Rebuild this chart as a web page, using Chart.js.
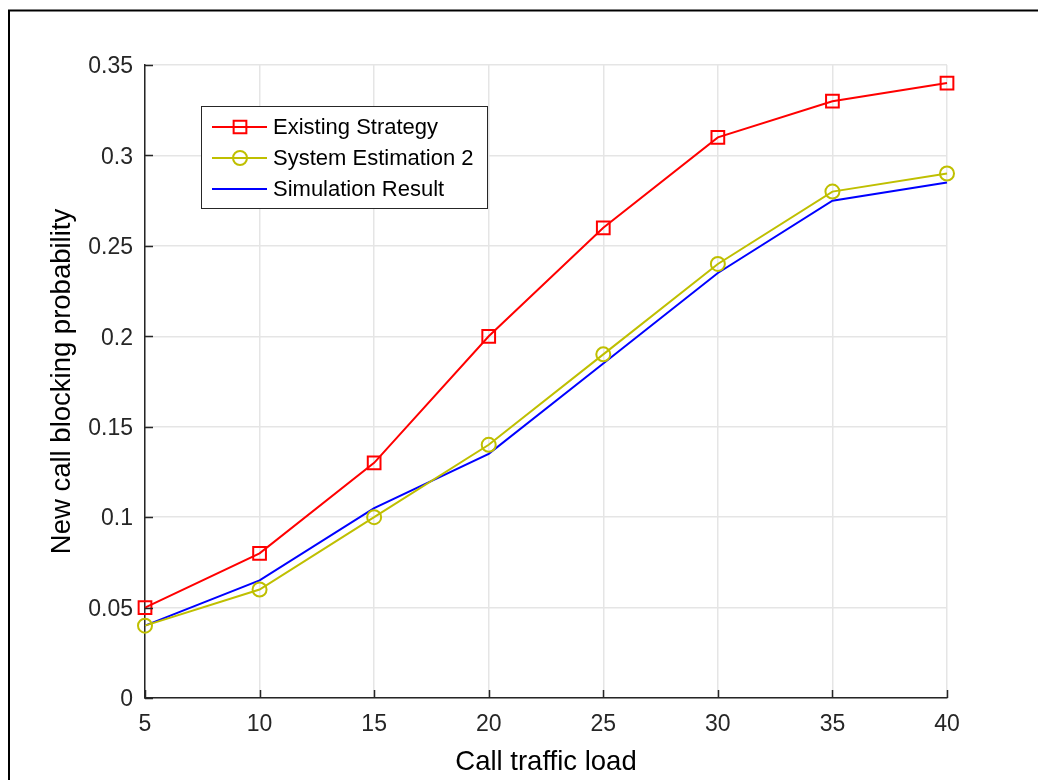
<!DOCTYPE html>
<html>
<head>
<meta charset="utf-8">
<script src="https://cdn.jsdelivr.net/npm/chart.js@4"></script>
<style>
  html, body { margin: 0; padding: 0; background: #fff; }
  #wrap { width: 1038px; height: 780px; position: relative; }
</style>
</head>
<body>
<div id="wrap"><canvas id="myChart" width="1038" height="780"></canvas></div>
<script>
// x軸
const loads = [5, 10, 15, 20, 25, 30, 35, 40];
// series
const existingStrategy = [0.05, 0.08, 0.13, 0.20, 0.26, 0.31, 0.33, 0.34];
const systemEstimation2 = [0.04, 0.06, 0.10, 0.14, 0.19, 0.24, 0.28, 0.29];
const simulationResult = [0.04, 0.065, 0.105, 0.135, 0.185, 0.235, 0.275, 0.285];
const seriesNames = ['Existing Strategy', 'System Estimation 2', 'Simulation Result'];

function toPoints(values) {
    return values.map((v, i) => ({ x: loads[i], y: v }));
}

const FONT = 'Liberation Sans, Arial, Helvetica, sans-serif';
const AXIS = '#262626';

// outer frame + inward tick marks
const framePlugin = {
    id: 'frame',
    afterDraw(chart) {
        const ctx = chart.ctx;
        const xs = chart.scales.x, ys = chart.scales.y;
        const area = chart.chartArea;
        ctx.save();
        ctx.strokeStyle = '#000';
        ctx.lineWidth = 2;
        ctx.beginPath();
        ctx.moveTo(9, 780);
        ctx.lineTo(9, 10.5);
        ctx.lineTo(1038, 10.5);
        ctx.stroke();

        ctx.strokeStyle = AXIS;
        ctx.lineWidth = 1.5;
        ctx.beginPath();
        xs.ticks.forEach(t => {
            const px = Math.round(xs.getPixelForValue(t.value)) + 0.5;
            ctx.moveTo(px, area.bottom);
            ctx.lineTo(px, area.bottom - 8);
        });
        ys.ticks.forEach(t => {
            const py = Math.round(ys.getPixelForValue(t.value)) + 0.5;
            ctx.moveTo(area.left, py);
            ctx.lineTo(area.left + 8, py);
        });
        ctx.stroke();
        ctx.restore();
    }
};

// legend box inside plot
const legendPlugin = {
    id: 'boxLegend',
    afterDraw(chart) {
        const ctx = chart.ctx;
        const box = { x: 201.5, y: 106.5, w: 286, h: 102 };
        ctx.save();
        ctx.fillStyle = '#fff';
        ctx.fillRect(box.x, box.y, box.w, box.h);
        ctx.strokeStyle = AXIS;
        ctx.lineWidth = 1;
        ctx.strokeRect(box.x, box.y, box.w, box.h);
        ctx.font = '22px ' + FONT;
        ctx.textBaseline = 'middle';
        const rows = [127, 158, 189];
        chart.data.datasets.forEach((ds, i) => {
            const y = rows[i];
            ctx.strokeStyle = ds.borderColor;
            ctx.lineWidth = 2;
            ctx.beginPath();
            ctx.moveTo(212, y);
            ctx.lineTo(267, y);
            ctx.stroke();
            if (ds.pointRadius > 0) {
                ctx.fillStyle = 'rgba(0,0,0,0)';
                Chart.helpers.drawPoint(ctx, {
                    pointStyle: ds.pointStyle,
                    radius: ds.pointRadius,
                    borderWidth: 2,
                    rotation: 0
                }, 240, y);
            }
            ctx.fillStyle = '#000';
            ctx.fillText(ds.label, 273, y + 1);
        });
        ctx.restore();
    }
};

const data = {
    datasets: [
        {
            label: seriesNames[0],
            data: toPoints(existingStrategy),
            borderColor: '#ff0000',
            backgroundColor: 'rgba(0,0,0,0)',
            borderWidth: 2,
            pointStyle: 'rect',
            pointRadius: 9,
            pointBorderWidth: 2,
            pointBackgroundColor: 'rgba(0,0,0,0)',
            clip: false,
            tension: 0
        },
        {
            label: seriesNames[1],
            data: toPoints(systemEstimation2),
            borderColor: '#bfbf00',
            backgroundColor: 'rgba(0,0,0,0)',
            borderWidth: 2,
            pointStyle: 'circle',
            pointRadius: 7,
            pointBorderWidth: 2,
            pointBackgroundColor: 'rgba(0,0,0,0)',
            clip: false,
            tension: 0
        },
        {
            label: seriesNames[2],
            data: toPoints(simulationResult),
            borderColor: '#0000ff',
            backgroundColor: 'rgba(0,0,0,0)',
            borderWidth: 2,
            pointRadius: 0,
            clip: false,
            tension: 0
        }
    ]
};

const config = {
    type: 'line',
    data: data,
    options: {
        responsive: false,
        animation: false,
        layout: { padding: { left: 0, top: 65, right: 91, bottom: 0 } },
        plugins: {
            legend: { display: false },
            tooltip: { enabled: false }
        },
        scales: {
            x: {
                type: 'linear',
                min: 5,
                max: 40,
                ticks: {
                    stepSize: 5,
                    color: AXIS,
                    padding: 13,
                    font: { family: FONT, size: 23 }
                },
                grid: { color: '#e5e5e5', lineWidth: 1.5, drawTicks: false },
                border: { display: true, color: AXIS, width: 1.5 },
                title: {
                    display: true,
                    text: 'Call traffic load',
                    color: '#000',
                    font: { family: FONT, size: 27.5 },
                    padding: { top: 0, bottom: 1 }
                },
                afterFit(scale) { scale.height = 82; }
            },
            y: {
                min: 0,
                max: 0.35,
                ticks: {
                    stepSize: 0.05,
                    color: AXIS,
                    padding: 12,
                    labelOffset: 2,
                    font: { family: FONT, size: 23 },
                    callback: v => String(Number(v.toFixed(2)))
                },
                grid: { color: '#e5e5e5', lineWidth: 1.5, drawTicks: false },
                border: { display: true, color: AXIS, width: 1.5 },
                title: {
                    display: true,
                    text: 'New call blocking probability',
                    color: '#000',
                    font: { family: FONT, size: 27.5 },
                    padding: { top: 46, bottom: 0 }
                },
                afterFit(scale) { scale.width = 145; }
            }
        }
    },
    plugins: [framePlugin, legendPlugin]
};

new Chart(document.getElementById('myChart'), config);
</script>
</body>
</html>
